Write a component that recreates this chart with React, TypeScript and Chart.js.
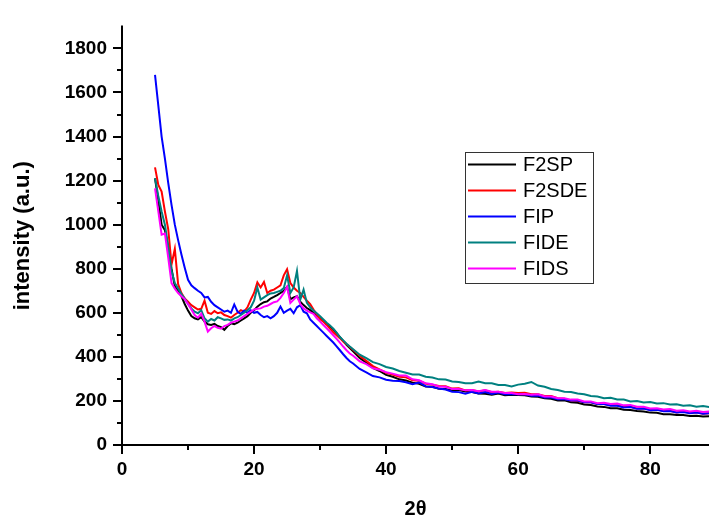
import React, { useEffect, useRef } from "react";
import { Chart, registerables } from "chart.js";
Chart.register(...registerables);

const xs = [
  5, 5.5, 6, 6.5, 7, 7.5, 8, 8.5, 9, 9.5,
  10, 10.5, 11, 11.5, 12, 12.5, 13, 13.5, 14, 14.5,
  15, 15.5, 16, 16.5, 17, 17.5, 18, 18.5, 19, 19.5,
  20, 20.5, 21, 21.5, 22, 22.5, 23, 23.5, 24, 24.5,
  25, 25.5, 26, 26.5, 27, 27.5, 28, 28.5, 29, 29.5,
  30, 30.5, 31, 31.5, 32, 32.5, 33, 33.5, 34, 34.5,
  35,
  36, 37, 38, 39, 40, 41, 42, 43, 44, 45,
  46, 47, 48, 49, 50, 51, 52, 53, 54, 55,
  56, 57, 58, 59, 60, 61, 62, 63, 64, 65,
  66, 67, 68, 69, 70, 71, 72, 73, 74, 75,
  76, 77, 78, 79, 80, 81, 82, 83, 84, 85,
  86, 87, 88, 89,
];

const f2sp = [
  1210, 1110, 1000, 975, 900, 800, 720, 700, 675, 640,
  610, 585, 575, 570, 580, 560, 548, 545, 550, 540,
  535, 523, 540, 552, 548, 555, 565, 575, 585, 600,
  612, 628, 640, 648, 652, 665, 672, 680, 690, 700,
  718, 662, 670, 675, 650, 635, 622, 612, 600, 588,
  575, 562, 550, 538, 525, 508, 490, 472, 455, 440,
  425,
  395, 374, 350, 336, 318, 310, 298, 293, 283, 278,
  266, 264, 255, 254, 248, 249, 243, 241, 234, 233,
  228, 234, 226, 228, 227, 226, 220, 219, 212, 210,
  202, 203, 194, 192, 184, 182, 175, 173, 167, 167,
  160, 159, 154, 152, 147, 146, 140, 140, 136, 136,
  132, 133, 129, 131,
];

const f2sde = [
  1260, 1180, 1150, 1060, 980, 820, 890, 730, 690, 665,
  650, 635, 625, 615, 618, 655, 600, 595, 608, 598,
  602, 590, 585, 578, 590, 600, 612, 605, 625, 660,
  690, 738, 715, 740, 690, 700, 705, 715, 725, 770,
  798, 735, 715, 700, 690, 672, 655, 640, 615, 592,
  572, 560, 545, 528, 512, 498, 485, 470, 458, 445,
  432,
  405, 382, 358, 343, 328, 320, 310, 307, 294, 292,
  278, 274, 268, 267, 256, 257, 248, 250, 243, 248,
  240, 242, 236, 238, 236, 237, 230, 230, 222, 222,
  212, 210, 201, 200, 194, 194, 186, 186, 180, 180,
  173, 174, 166, 167, 160, 162, 154, 155, 148, 152,
  146, 148, 142, 144,
];

const fip = [
  1680, 1540, 1400, 1300, 1190, 1090, 1000, 930, 865, 805,
  750, 725, 712, 700, 690, 670, 672, 650, 635, 625,
  615, 605, 610, 600, 638, 605, 595, 610, 600, 612,
  600, 604, 590, 580, 585, 575, 585, 600, 628, 600,
  610, 618, 598, 625, 635, 605, 598, 570, 555, 540,
  525, 510, 495, 480, 465, 448, 430, 412, 395, 380,
  370,
  345, 330, 313, 307, 296, 292, 290, 285, 276, 284,
  266, 263, 256, 252, 242, 240, 233, 242, 234, 240,
  232, 238, 230, 232, 230, 230, 224, 224, 216, 216,
  208, 208, 202, 202, 194, 194, 186, 186, 178, 178,
  170, 172, 164, 165, 158, 160, 153, 154, 148, 150,
  144, 147, 142, 144,
];

const fide = [
  1210, 1130, 1060, 1000, 900, 790, 735, 710, 685, 665,
  640, 620, 605, 598, 612, 575, 560, 572, 565, 580,
  575, 568, 570, 565, 575, 580, 590, 600, 612, 625,
  655, 715, 660, 670, 680, 688, 690, 695, 700, 712,
  770, 690, 715, 790, 660, 705, 645, 625, 610, 598,
  585, 570, 555, 542, 528, 510, 490, 475, 460, 447,
  435,
  410, 394, 376, 367, 354, 347, 336, 328, 320, 320,
  310, 306, 298, 297, 288, 286, 280, 280, 288, 280,
  280, 272, 272, 266, 274, 278, 286, 270, 264, 254,
  250, 242, 241, 234, 230, 222, 220, 212, 214, 207,
  206, 198, 200, 193, 195, 188, 190, 184, 185, 178,
  180, 174, 177, 172,
];

const fids = [
  1165, 1060, 955, 960, 850, 735, 710, 690, 675, 662,
  640, 615, 590, 578, 596, 560, 515, 530, 540, 532,
  528, 540, 545, 555, 560, 565, 575, 585, 595, 605,
  615, 618, 620, 628, 632, 640, 648, 652, 668, 690,
  718, 645, 660, 675, 640, 620, 610, 602, 595, 575,
  560, 545, 530, 514, 498, 482, 465, 447, 430, 415,
  405,
  380, 367, 348, 342, 330, 324, 316, 315, 298, 294,
  280, 276, 266, 264, 254, 254, 248, 250, 244, 250,
  242, 242, 236, 236, 230, 232, 228, 230, 220, 220,
  212, 212, 206, 206, 198, 198, 190, 192, 186, 188,
  180, 182, 174, 174, 166, 167, 161, 163, 156, 158,
  152, 155, 150, 152,
];

const seriesNames = ["F2SP", "F2SDE", "FIP", "FIDE", "FIDS"];
const seriesValues = [f2sp, f2sde, fip, fide, fids];
const seriesColors = ["#000000", "#ff0000", "#0000ff", "#008080", "#ff00ff"];

const FONT = "'Liberation Sans', Arial, sans-serif";

const axesPlugin = {
  id: "axesTicks",
  afterDraw(chart: any) {
    const { ctx, chartArea, scales } = chart;
    const xS = scales.x;
    const yS = scales.y;
    ctx.save();
    ctx.strokeStyle = "#000";
    ctx.lineWidth = 2;
    ctx.beginPath();
    ctx.moveTo(chartArea.left, chartArea.top - 1);
    ctx.lineTo(chartArea.left, chartArea.bottom);
    ctx.lineTo(chartArea.right, chartArea.bottom);
    ctx.stroke();
    ctx.beginPath();
    for (let v = 0; v <= 1800; v += 100) {
      const y = Math.round(yS.getPixelForValue(v));
      const len = v % 200 === 0 ? 9 : 5;
      ctx.moveTo(chartArea.left - len, y);
      ctx.lineTo(chartArea.left, y);
    }
    for (let v = 0; v <= 80; v += 10) {
      const x = Math.round(xS.getPixelForValue(v));
      const len = v % 20 === 0 ? 9 : 5;
      ctx.moveTo(x, chartArea.bottom);
      ctx.lineTo(x, chartArea.bottom + len);
    }
    ctx.stroke();
    ctx.restore();
  },
};

const legendPlugin = {
  id: "boxLegend",
  afterDraw(chart: any) {
    const { ctx } = chart;
    ctx.save();
    ctx.strokeStyle = "#333";
    ctx.lineWidth = 1;
    ctx.strokeRect(465.5, 152.5, 128, 131);
    ctx.font = `20px ${FONT}`;
    ctx.textBaseline = "middle";
    ctx.textAlign = "left";
    chart.data.datasets.forEach((ds: any, i: number) => {
      const y = 164.5 + i * 26;
      ctx.strokeStyle = ds.borderColor;
      ctx.lineWidth = 2;
      ctx.beginPath();
      ctx.moveTo(468, y);
      ctx.lineTo(516, y);
      ctx.stroke();
      ctx.fillStyle = "#000";
      ctx.fillText(ds.label, 523, y + 1);
    });
    ctx.restore();
  },
};

export default function App() {
  const ref = useRef<HTMLCanvasElement | null>(null);
  useEffect(() => {
    if (!ref.current) return;
    const chart = new Chart(ref.current, {
      type: "line",
      data: {
        datasets: seriesNames.map((name, i) => ({
          label: name,
          data: xs.map((x, j) => ({ x, y: seriesValues[i][j] })),
          borderColor: seriesColors[i],
          backgroundColor: seriesColors[i],
          borderWidth: 2,
          pointRadius: 0,
          tension: 0,
          fill: false,
          order: seriesNames.length - i,
        })),
      },
      options: {
        responsive: false,
        animation: false,
        devicePixelRatio: 1,
        layout: { padding: { top: 8, left: 0, right: 0, bottom: 0 } },
        plugins: {
          legend: { display: false },
          tooltip: { enabled: false },
        },
        scales: {
          x: {
            type: "linear",
            min: 0,
            max: 88.9,
            grid: { display: false, drawTicks: false },
            border: { display: false },
            ticks: {
              stepSize: 20,
              includeBounds: false,
              color: "#000",
              font: { family: FONT, size: 19, weight: "bold" },
              padding: 13,
              maxRotation: 0,
              callback: (v: any) => String(v),
            },
            title: {
              display: true,
              text: "2θ",
              color: "#000",
              font: { family: FONT, size: 20, weight: "bold" },
              padding: { top: 0, bottom: 1 },
            },
            afterFit: (s: any) => {
              s.height = 77;
            },
          },
          y: {
            type: "linear",
            min: 0,
            max: 1900,
            grid: { display: false, drawTicks: false },
            border: { display: false },
            ticks: {
              stepSize: 200,
              includeBounds: false,
              color: "#000",
              font: { family: FONT, size: 19, weight: "bold" },
              padding: 15,
              callback: (v: any) => String(v),
            },
            title: {
              display: true,
              text: "intensity (a.u.)",
              color: "#000",
              font: { family: FONT, size: 22, weight: "bold" },
              padding: { top: 10, bottom: 0 },
            },
            afterFit: (s: any) => {
              s.width = 122;
            },
          },
        },
      },
      plugins: [axesPlugin, legendPlugin],
    });
    return () => chart.destroy();
  }, []);
  return (
    <div style={{ position: "fixed", left: 0, top: 0, width: 709, height: 522, background: "#fff" }}>
      <canvas ref={ref} width={709} height={522} style={{ display: "block" }} />
    </div>
  );
}
